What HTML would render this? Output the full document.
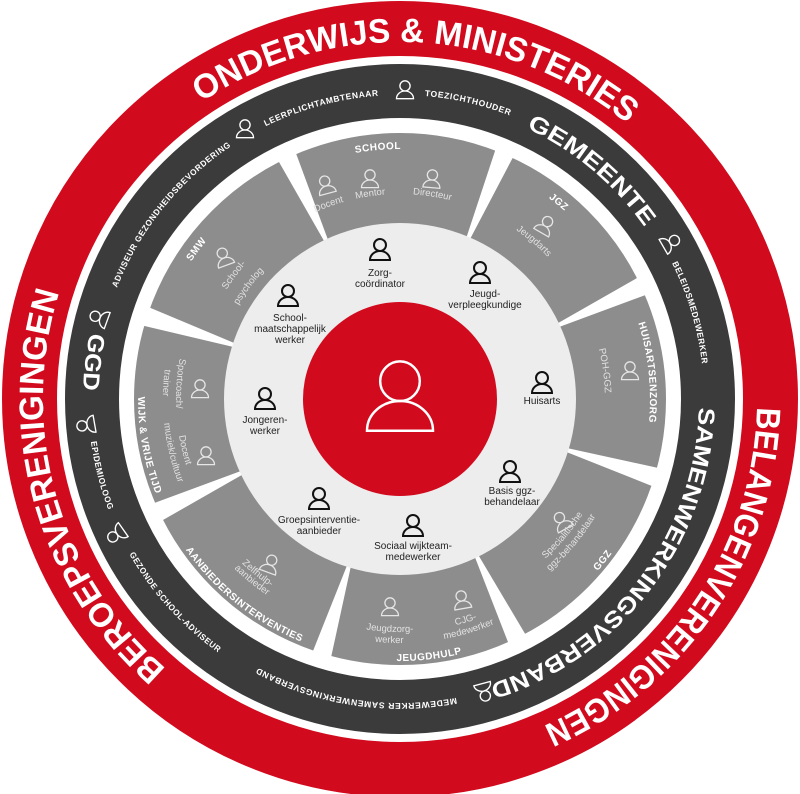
<!DOCTYPE html>
<html><head><meta charset="utf-8"><style>
html,body{margin:0;padding:0;background:#fff;}
svg{display:block;}
.red{font-family:"Liberation Sans",sans-serif;font-weight:bold;fill:#fff;font-size:34px;}
.dk{font-family:"Liberation Sans",sans-serif;font-weight:bold;fill:#fff;font-size:23px;}
.ds{font-family:"Liberation Sans",sans-serif;font-weight:bold;fill:#fff;font-size:8.5px;letter-spacing:0.6px;}
.gt{font-family:"Liberation Sans",sans-serif;font-weight:bold;fill:#fff;font-size:10px;letter-spacing:0.5px;}
.gi{font-family:"Liberation Sans",sans-serif;fill:#e2e2e2;font-size:9.5px;}
.in{font-family:"Liberation Sans",sans-serif;fill:#222;font-size:10px;text-anchor:middle;}
</style></head><body>
<svg width="800" height="794" viewBox="0 0 800 794" xmlns="http://www.w3.org/2000/svg">
<defs>
<symbol id="p" overflow="visible"><circle cx="0" cy="-6" r="6" fill="none"/><path d="M-10 9 A10 9 0 0 1 10 9 Z" fill="none"/></symbol>
<path id="cw357" d="M400 756 A357 357 0 1 1 400 42 A357 357 0 1 1 400 756"/>
<path id="cw299" d="M400 698 A299 299 0 1 1 400 100 A299 299 0 1 1 400 698"/>
<path id="cw304" d="M400 703 A304 304 0 1 1 400 95 A304 304 0 1 1 400 703"/>
<path id="cw304t" d="M400 95 A304 304 0 1 1 400 703 A304 304 0 1 1 400 95"/>
<path id="cw250" d="M400 649 A250 250 0 1 1 400 149 A250 250 0 1 1 400 649"/>
<path id="cw205" d="M400 604 A205 205 0 1 1 400 194 A205 205 0 1 1 400 604"/>
<path id="cw187" d="M400 586 A187 187 0 1 1 400 212 A187 187 0 1 1 400 586"/>
<path id="cc317" d="M400 82 A317 317 0 1 0 400 716 A317 317 0 1 0 400 82"/>
<path id="cc312" d="M400 87 A312 312 0 1 0 400 711 A312 312 0 1 0 400 87"/>
<path id="cc262" d="M400 137 A262 262 0 1 0 400 661 A262 262 0 1 0 400 137"/>
<path id="cc216" d="M400 183 A216 216 0 1 0 400 615 A216 216 0 1 0 400 183"/>
<path id="cc228" d="M400 171 A228 228 0 1 0 400 627 A228 228 0 1 0 400 171"/>
<path id="cc233" d="M400 166 A233 233 0 1 0 400 632 A233 233 0 1 0 400 166"/>
<path id="cc244" d="M400 155 A244 244 0 1 0 400 643 A244 244 0 1 0 400 155"/>
<path id="cc224" d="M400 175 A224 224 0 1 0 400 623 A224 224 0 1 0 400 175"/>
<path id="cc237" d="M400 162 A237 237 0 1 0 400 636 A237 237 0 1 0 400 162"/>
</defs>

<circle cx="400" cy="399" r="370.5" fill="none" stroke="#d20a1e" stroke-width="55"/>
<circle cx="400" cy="399" r="308" fill="none" stroke="#3b3b3b" stroke-width="54"/>
<circle cx="400" cy="399" r="220" fill="none" stroke="#8d8d8d" stroke-width="92"/>
<g fill="#fff">
<polygon points="398,224 402,224 410,127 390,127" transform="rotate(335 400 399)"/>
<polygon points="398,224 402,224 410,127 390,127" transform="rotate(23 400 399)"/>
<polygon points="398,224 402,224 410,127 390,127" transform="rotate(65 400 399)"/>
<polygon points="398,224 402,224 410,127 390,127" transform="rotate(107 400 399)"/>
<polygon points="398,224 402,224 410,127 390,127" transform="rotate(154 400 399)"/>
<polygon points="398,224 402,224 410,127 390,127" transform="rotate(197 400 399)"/>
<polygon points="398,224 402,224 410,127 390,127" transform="rotate(245 400 399)"/>
<polygon points="398,224 402,224 410,127 390,127" transform="rotate(288 400 399)"/>
</g>
<circle cx="400" cy="399" r="176" fill="#ededed"/>
<circle cx="400" cy="399" r="97" fill="#d20a1e"/>
<use href="#p" transform="translate(400 401) scale(3.3)" stroke="#fff" stroke-width="0.75"/>

<text class="red"><textPath href="#cw357" startOffset="50.8%" text-anchor="middle" textLength="457" lengthAdjust="spacingAndGlyphs">ONDERWIJS &amp; MINISTERIES</textPath></text>
<text class="red"><textPath href="#cw357" startOffset="84.4%" text-anchor="middle" textLength="405" lengthAdjust="spacingAndGlyphs">BELANGENVERENIGINGEN</textPath></text>
<text class="red"><textPath href="#cw357" startOffset="20.6%" text-anchor="middle" textLength="414" lengthAdjust="spacingAndGlyphs">BEROEPSVERENIGINGEN</textPath></text>

<text class="dk"><textPath href="#cw299" startOffset="61.1%" text-anchor="middle" textLength="156" lengthAdjust="spacingAndGlyphs">GEMEENTE</textPath></text>
<text class="dk"><textPath href="#cw299" startOffset="85.3%" text-anchor="middle" textLength="370" lengthAdjust="spacingAndGlyphs">SAMENWERKINGSVERBAND</textPath></text>
<text class="dk"><textPath href="#cc317" startOffset="23.1%" text-anchor="middle" textLength="58" lengthAdjust="spacingAndGlyphs">GGD</textPath></text>
<text class="ds"><textPath href="#cw304" startOffset="45.8%" text-anchor="middle" textLength="118" lengthAdjust="spacingAndGlyphs">LEERPLICHTAMBTENAAR</textPath></text>
<text class="ds"><textPath href="#cw304" startOffset="53.6%" text-anchor="middle" textLength="88" lengthAdjust="spacingAndGlyphs">TOEZICHTHOUDER</textPath></text>
<text class="ds"><textPath href="#cw304" startOffset="70.4%" text-anchor="middle" textLength="106" lengthAdjust="spacingAndGlyphs">BELEIDSMEDEWERKER</textPath></text>
<text class="ds"><textPath href="#cw304t" startOffset="52.4%" text-anchor="middle" textLength="205" lengthAdjust="spacingAndGlyphs">MEDEWERKER SAMENWERKINGSVERBAND</textPath></text>
<text class="ds"><textPath href="#cw304" startOffset="35.8%" text-anchor="middle" textLength="185" lengthAdjust="spacingAndGlyphs">ADVISEUR GEZONDHEIDSBEVORDERING</textPath></text>
<text class="ds"><textPath href="#cc312" startOffset="29.0%" text-anchor="middle" textLength="71" lengthAdjust="spacingAndGlyphs">EPIDEMIOLOOG</textPath></text>
<text class="ds"><textPath href="#cc312" startOffset="36.7%" text-anchor="middle" textLength="134" lengthAdjust="spacingAndGlyphs">GEZONDE SCHOOL-ADVISEUR</textPath></text>

<g stroke="#fff" stroke-width="1.6">
<use href="#p" transform="translate(245 130) scale(0.85)"/>
<use href="#p" transform="translate(405 91) scale(0.85)"/>
<use href="#p" transform="translate(670 243) rotate(60) scale(0.85)"/>
<use href="#p" transform="translate(484 691) rotate(165) scale(0.85)"/>
<use href="#p" transform="translate(117 534) rotate(235) scale(0.85)"/>
<use href="#p" transform="translate(87 425) rotate(260) scale(0.85)"/>
<use href="#p" transform="translate(100 318) rotate(290) scale(0.85)"/>
</g>

<text class="gt"><textPath href="#cw250" startOffset="48.6%" text-anchor="middle">SCHOOL</textPath></text>
<text class="gt"><textPath href="#cw250" startOffset="60.8%" text-anchor="middle">JGZ</textPath></text>
<text class="gt"><textPath href="#cw250" startOffset="73.3%" text-anchor="middle">HUISARTSENZORG</textPath></text>
<text class="gt"><textPath href="#cc262" startOffset="64.3%" text-anchor="middle">GGZ</textPath></text>
<text class="gt"><textPath href="#cc262" startOffset="51.8%" text-anchor="middle">JEUGDHULP</textPath></text>
<text class="gt"><textPath href="#cc262" startOffset="39.3%" text-anchor="middle">AANBIEDERSINTERVENTIES</textPath></text>
<text class="gt"><textPath href="#cc262" startOffset="27.9%" text-anchor="middle">WIJK &amp; VRIJE TIJD</textPath></text>
<text class="gt"><textPath href="#cw250" startOffset="35.1%" text-anchor="middle">SMW</textPath></text>

<text class="gi"><textPath href="#cw205" startOffset="44.4%" text-anchor="middle">Docent</textPath></text>
<text class="gi"><textPath href="#cw205" startOffset="47.7%" text-anchor="middle">Mentor</textPath></text>
<text class="gi"><textPath href="#cw205" startOffset="52.5%" text-anchor="middle">Directeur</textPath></text>
<text class="gi"><textPath href="#cw205" startOffset="61.2%" text-anchor="middle">Jeugdarts</textPath></text>
<text class="gi"><textPath href="#cw205" startOffset="72.8%" text-anchor="middle">POH-GGZ</textPath></text>
<text class="gi"><textPath href="#cc216" startOffset="63.9%" text-anchor="middle">Specialitische</textPath></text>
<text class="gi"><textPath href="#cc228" startOffset="63.9%" text-anchor="middle">ggz-behandelaar</textPath></text>
<text class="gi"><textPath href="#cc233" startOffset="54.6%" text-anchor="middle">CJG-</textPath></text>
<text class="gi"><textPath href="#cc244" startOffset="54.6%" text-anchor="middle">medewerker</textPath></text>
<text class="gi"><textPath href="#cc233" startOffset="49.3%" text-anchor="middle">Jeugdzorg-</textPath></text>
<text class="gi"><textPath href="#cc244" startOffset="49.3%" text-anchor="middle">werker</textPath></text>
<text class="gi"><textPath href="#cc228" startOffset="39.1%" text-anchor="middle">Zelfhulp-</textPath></text>
<text class="gi"><textPath href="#cc237" startOffset="39.1%" text-anchor="middle">aanbieder</textPath></text>
<text class="gi"><textPath href="#cc224" startOffset="23.9%" text-anchor="middle">Sportcoach/</textPath></text>
<text class="gi"><textPath href="#cc237" startOffset="23.9%" text-anchor="middle">trainer</textPath></text>
<text class="gi"><textPath href="#cc224" startOffset="28.7%" text-anchor="middle">Docent</textPath></text>
<text class="gi"><textPath href="#cc237" startOffset="28.7%" text-anchor="middle">muziek/cultuur</textPath></text>
<text class="gi"><textPath href="#cw205" startOffset="35.2%" text-anchor="middle">School-</textPath></text>
<text class="gi"><textPath href="#cw187" startOffset="35.2%" text-anchor="middle">psycholog</textPath></text>

<g stroke="#e6e6e6" stroke-width="1.5">
<use href="#p" transform="translate(326 186) rotate(-15) scale(0.85)"/>
<use href="#p" transform="translate(370 180) scale(0.85)"/>
<use href="#p" transform="translate(432 180) rotate(5) scale(0.85)"/>
<use href="#p" transform="translate(545 226) rotate(30) scale(0.85)"/>
<use href="#p" transform="translate(630 372) scale(0.85)"/>
<use href="#p" transform="translate(562 522) rotate(-30) scale(0.85)"/>
<use href="#p" transform="translate(462 601) rotate(-10) scale(0.85)"/>
<use href="#p" transform="translate(390 608) scale(0.85)"/>
<use href="#p" transform="translate(270 565) rotate(20) scale(0.85)"/>
<use href="#p" transform="translate(200 390) scale(0.85)"/>
<use href="#p" transform="translate(206 457) scale(0.85)"/>
<use href="#p" transform="translate(224 258) rotate(-20) scale(0.85)"/>
</g>

<g stroke="#111" stroke-width="2">
<use href="#p" transform="translate(380 251)"/>
<use href="#p" transform="translate(480 274)"/>
<use href="#p" transform="translate(288 297)"/>
<use href="#p" transform="translate(265 400)"/>
<use href="#p" transform="translate(542 384)"/>
<use href="#p" transform="translate(510 473)"/>
<use href="#p" transform="translate(319 500)"/>
<use href="#p" transform="translate(413 527)"/>
</g>
<text class="in" x="380" y="276">Zorg-</text><text class="in" x="380" y="287">coördinator</text>
<text class="in" x="485" y="297">Jeugd-</text><text class="in" x="485" y="308">verpleegkundige</text>
<text class="in" x="290" y="321">School-</text><text class="in" x="290" y="332">maatschappelijk</text><text class="in" x="290" y="343">werker</text>
<text class="in" x="265" y="423">Jongeren-</text><text class="in" x="265" y="434">werker</text>
<text class="in" x="542" y="404">Huisarts</text>
<text class="in" x="512" y="494">Basis ggz-</text><text class="in" x="512" y="505">behandelaar</text>
<text class="in" x="319" y="523">Groepsinterventie-</text><text class="in" x="319" y="534">aanbieder</text>
<text class="in" x="413" y="549">Sociaal wijkteam-</text><text class="in" x="413" y="560">medewerker</text>
</svg>
</body></html>
